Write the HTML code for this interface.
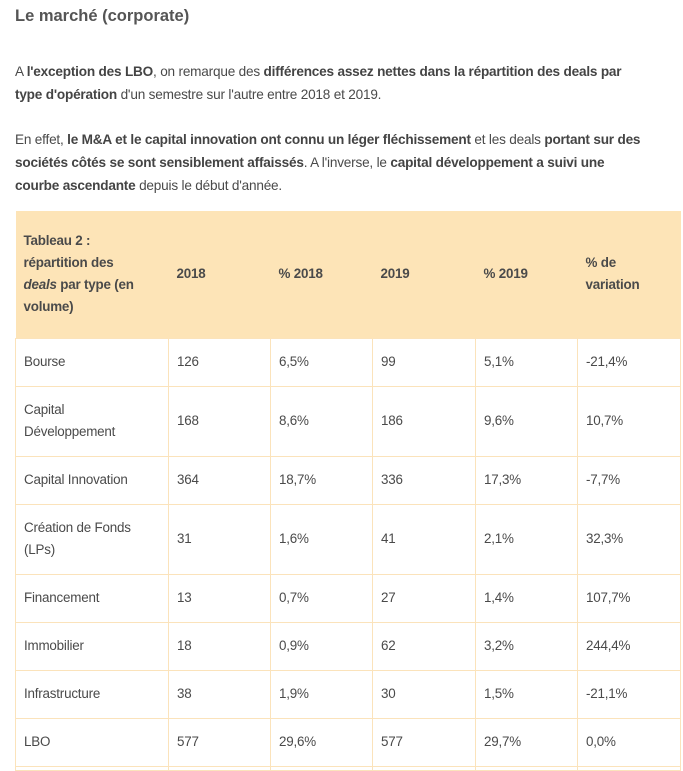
<!DOCTYPE html>
<html><head><meta charset="utf-8">
<style>
html,body{margin:0;background:#fff;width:683px;height:771px;overflow:hidden}
body{font-family:"Liberation Sans",sans-serif;color:#4a4a4a;position:relative}
h2{position:absolute;left:15px;top:7px;margin:0;font-size:16.5px;font-weight:bold;color:#555}
p{position:absolute;left:15px;margin:0;font-size:13.6px;line-height:23px;width:634px;letter-spacing:-0.2px}
b{color:#444}
table{position:absolute;left:15px;top:211px;border-collapse:collapse;table-layout:fixed;width:665px;font-size:13.4px}
td,th{border:1px solid #fbe3bb;padding:0 0 0 8px;text-align:left;vertical-align:middle;line-height:22px;letter-spacing:-0.2px}
thead tr{background:#fde4b7;height:127px}
th{font-weight:bold;border:none;color:#4a4a4a}
tr.s{height:48px}tr.d{height:70px}tr.e{height:4px}
tr.e td{line-height:4px}
</style></head><body>
<h2>Le marché (corporate)</h2>
<p style="top:60px">A <b>l'exception des LBO</b>, on remarque des <b>différences assez nettes dans la répartition des deals par type d'opération</b> d'un semestre sur l'autre entre 2018 et 2019.</p>
<p style="top:128px">En effet, <b>le M&amp;A et le capital innovation ont connu un léger fléchissement</b> et les deals <b>portant sur des sociétés côtés se sont sensiblement affaissés</b>. A l'inverse, le <b>capital développement a suivi une courbe ascendante</b> depuis le début d'année.</p>
<table>
<colgroup><col style="width:153px"><col style="width:102px"><col style="width:102px"><col style="width:103px"><col style="width:102px"><col style="width:103px"></colgroup>
<thead><tr><th>Tableau 2 :<br>répartition des<br><i>deals</i> par type (en<br>volume)</th><th>2018</th><th>% 2018</th><th>2019</th><th>% 2019</th><th>% de<br>variation</th></tr></thead>
<tbody>
<tr class="s"><td>Bourse</td><td>126</td><td>6,5%</td><td>99</td><td>5,1%</td><td>-21,4%</td></tr>
<tr class="d"><td>Capital<br>Développement</td><td>168</td><td>8,6%</td><td>186</td><td>9,6%</td><td>10,7%</td></tr>
<tr class="s"><td>Capital Innovation</td><td>364</td><td>18,7%</td><td>336</td><td>17,3%</td><td>-7,7%</td></tr>
<tr class="d"><td>Création de Fonds<br>(LPs)</td><td>31</td><td>1,6%</td><td>41</td><td>2,1%</td><td>32,3%</td></tr>
<tr class="s"><td>Financement</td><td>13</td><td>0,7%</td><td>27</td><td>1,4%</td><td>107,7%</td></tr>
<tr class="s"><td>Immobilier</td><td>18</td><td>0,9%</td><td>62</td><td>3,2%</td><td>244,4%</td></tr>
<tr class="s"><td>Infrastructure</td><td>38</td><td>1,9%</td><td>30</td><td>1,5%</td><td>-21,1%</td></tr>
<tr class="s"><td>LBO</td><td>577</td><td>29,6%</td><td>577</td><td>29,7%</td><td>0,0%</td></tr>
<tr class="e"><td></td><td></td><td></td><td></td><td></td><td></td></tr>
</tbody></table>
</body></html>
